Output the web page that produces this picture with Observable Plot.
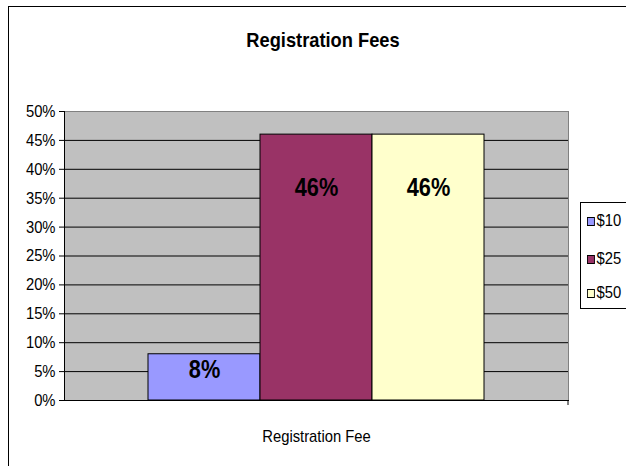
<!DOCTYPE html>
<html>
<head>
<meta charset="utf-8">
<script src="https://cdn.jsdelivr.net/npm/d3@7"></script>
<script src="https://cdn.jsdelivr.net/npm/@observablehq/plot@0.6"></script>
<style>
  html, body { margin: 0; padding: 0; background: #fff; }
  #wrap { position: relative; width: 626px; height: 466px; overflow: hidden; background: #fff;
          font-family: "Liberation Sans Narrow", "Arial Narrow", "Liberation Sans", Arial, sans-serif; }
  #border { position: absolute; left: 8px; top: 6px; width: 700px; height: 600px;
            border-left: 1px solid #000; border-top: 1px solid #000; }
  #title { position: absolute; left: 0; top: 28px; width: 646px; text-align: center;
           font-weight: bold; font-size: 21px; color: #000; transform: scaleX(0.87); transform-origin: 323px 0; }
  #chart { position: absolute; left: 0; top: 80px; }
  #legend { position: absolute; left: 580px; top: 202px; width: 80px; height: 105px;
            border: 1px solid #000; background: #fff; }
  .item { position: absolute; left: 6px; font-size: 17px; line-height: 20px; display: flex; align-items: center;
          transform: scaleX(0.87); transform-origin: 0 0; }
  .sw { width: 7px; height: 7px; border: 1px solid #000; margin-right: 2px; }
</style>
</head>
<body>
<div id="wrap">
  <div id="border"></div>
  <div id="title">Registration Fees</div>
  <div id="chart"></div>
  <div id="legend"></div>
</div>
<script>
const categories = ["$10", "$25", "$50"];
const values = [0.08, 0.46, 0.46];
const labelAt = [0.053, 0.367, 0.367];
const colors = ["#9999FF", "#993366", "#FFFFCC"];
const yTicks = [0, 0.05, 0.10, 0.15, 0.20, 0.25, 0.30, 0.35, 0.40, 0.45, 0.50];
const gridTicks = [0.05, 0.10, 0.15, 0.20, 0.25, 0.30, 0.35, 0.40, 0.45];
const xTitle = "Registration Fee";

const data = categories.map((c, i) => ({fee: c, value: values[i], labelAt: labelAt[i]}));
const font = '"Liberation Sans Narrow", "Arial Narrow", "Liberation Sans", Arial, sans-serif';

const rightTick = (index, scales, values, dims) => {
  const x = dims.width - dims.marginRight;
  const y = dims.height - dims.marginBottom;
  return d3.create("svg:line").attr("x1", x).attr("x2", x).attr("y1", y).attr("y2", y + 5)
    .attr("stroke", "black").node();
};

const chart = Plot.plot({
  width: 626,
  height: 386,
  marginLeft: 64,
  marginRight: 58,
  marginTop: 31,
  marginBottom: 66,
  style: {fontFamily: font, fontSize: "16px", background: "transparent", color: "black", overflow: "visible"},
  x: {domain: categories, paddingInner: 0, paddingOuter: 0.75, axis: null},
  y: {domain: [0, 0.5], axis: null},
  color: {domain: categories, range: colors},
  marks: [
    Plot.frame({fill: "#C0C0C0", stroke: "#808080"}),
    Plot.gridY(gridTicks, {stroke: "black", strokeOpacity: 1}),
    Plot.barY(data, {x: "fee", y: "value", fill: "fee", stroke: "black", strokeWidth: 1}),
    Plot.text(data, {x: "fee", y: "labelAt", text: d => Math.round(d.value * 100) + "%",
      fontWeight: "bold", fontSize: 25, fill: "black"}),
    Plot.frame({anchor: "left", stroke: "black"}),
    Plot.frame({anchor: "bottom", stroke: "black"}),
    Plot.axisY(yTicks, {tickFormat: d3.format(".0%"), tickSize: 5, tickPadding: 4, fontSize: 17, stroke: "black"}),
    rightTick,
    Plot.text([xTitle], {frameAnchor: "bottom", dy: 41, fontSize: 17, fill: "black"})
  ]
});
// condense text horizontally to mimic the narrow face of the original
chart.querySelectorAll("text").forEach(t => {
  const tr = t.getAttribute("transform") || "";
  t.setAttribute("transform", tr + " scale(0.87,1)");
});
document.getElementById("chart").appendChild(chart);

const legend = document.getElementById("legend");
const itemTops = [8, 46, 80];
categories.forEach((c, i) => {
  const it = document.createElement("div");
  it.className = "item";
  it.style.top = itemTops[i] + "px";
  const sw = document.createElement("span");
  sw.className = "sw";
  sw.style.background = colors[i];
  it.appendChild(sw);
  it.appendChild(document.createTextNode(c));
  legend.appendChild(it);
});
</script>
</body>
</html>
